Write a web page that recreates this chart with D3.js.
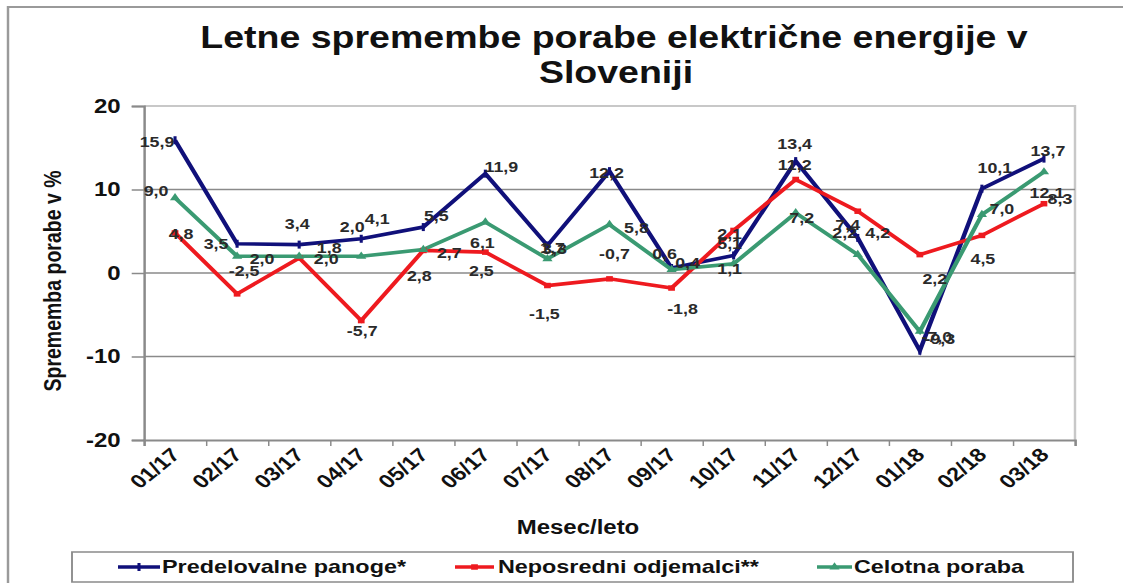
<!DOCTYPE html>
<html>
<head>
<meta charset="utf-8">
<script src="https://cdn.jsdelivr.net/npm/d3@7/dist/d3.min.js"></script>
<style>
  body { margin: 0; background: #fff; }
  text { font-family: "Liberation Sans", Arial, sans-serif; font-weight: bold; }
</style>
</head>
<body>
<svg id="chart" width="1123" height="583"></svg>
<script>
var months = ["01/17", "02/17", "03/17", "04/17", "05/17", "06/17", "07/17", "08/17",
              "09/17", "10/17", "11/17", "12/17", "01/18", "02/18", "03/18"];
var predelovalne = [15.9, 3.5, 3.4, 4.1, 5.5, 11.9, 3.3, 12.2, 0.6, 2.1, 13.4, 4.2, -9.3, 10.1, 13.7];
var neposredni = [4.8, -2.5, 1.8, -5.7, 2.7, 2.5, -1.5, -0.7, -1.8, 5.1, 11.2, 7.4, 2.2, 4.5, 8.3];
var celotna = [9.0, 2.0, 2.0, 2.0, 2.8, 6.1, 1.7, 5.8, 0.4, 1.1, 7.2, 2.2, -7.0, 7.0, 12.1];
var yTicks = [-20, -10, 0, 10, 20];
var seriesNames = ["Predelovalne panoge*", "Neposredni odjemalci**", "Celotna poraba"];

// label nudges (px), one per point, to sit like in the original
var blueOff = [[-18,1],[-21,0],[-2,-21],[16,-20],[13,-11],[16,-7],[7,3],[-3,2],[-7,-14],[-4,-22],[-1,-17],[20,-5],[20,-12],[13,-21],[4,-8]];
var redOff = [[6,1],[7,-23],[30,-10],[1,10],[26,2],[-4,19],[-3,28],[5,-25],[11,21],[-4,13],[-1,-15],[-10,13],[15,24],[1,23],[16,-5]];
var greenOff = [[-19,-7],[25,2],[27,2],[-9,-30],[-4,26],[-3,21],[5,-11],[27,3],[16,-7],[-4,5],[6,5],[-13,-22],[17,5],[20,-6],[3,21]];

(function () {
  // the source picture is stretched sideways, so draw in a squeezed space and scale x back
  var sx = 1.23;
  var left = 144, right = 1075, top = 106, bottom = 440;
  var fmt = function(v) { return d3.format(".1f")(v).replace("−", "-").replace(".", ","); };

  var svg = d3.select("#chart");
  var g = svg.append("g").attr("transform", "scale(" + sx + ",1)");

  // outer frame
  g.append("rect")
    .attr("x", 8 / sx).attr("y", 7)
    .attr("width", 1200 / sx).attr("height", 700)
    .attr("fill", "none").attr("stroke", "#9a9a9a").attr("stroke-width", 2);

  var x = d3.scaleBand().domain(months).range([left / sx, right / sx]);
  var xb = d3.scaleLinear().domain([0, months.length]).range([left / sx, right / sx]);
  var y = d3.scaleLinear().domain([-20, 20]).range([bottom, top]);
  var cx = function(i) { return x(months[i]) + x.bandwidth() / 2; };

  // plot area border (top and right)
  g.append("path")
    .attr("d", "M" + left / sx + "," + top + "H" + right / sx + "V" + bottom)
    .attr("fill", "none").attr("stroke", "#c8c8c8").attr("stroke-width", 2);

  // gridlines
  g.selectAll(".grid")
    .data(yTicks.filter(function(d) { return d > -20 && d < 20; }))
    .enter().append("line")
      .attr("x1", left / sx).attr("x2", right / sx)
      .attr("y1", function(d) { return y(d); })
      .attr("y2", function(d) { return y(d); })
      .attr("stroke", "#8a8a8a").attr("stroke-width", 1.5);

  // y axis
  var yaxis = d3.axisLeft(y).tickValues(yTicks).tickSize(10).tickPadding(9)
    .tickFormat(function(d) { return String(d); });
  var ya = g.append("g")
    .attr("transform", "translate(" + left / sx + ",0)")
    .call(yaxis);
  ya.select(".domain").attr("stroke", "#8a8a8a").attr("stroke-width", 2);
  ya.selectAll(".tick line").attr("stroke", "#8a8a8a").attr("stroke-width", 1.5);
  ya.selectAll(".tick text")
    .attr("font-size", 19.5).attr("fill", "#111")
    .style("font-family", "'Liberation Sans', Arial, sans-serif").style("font-weight", "bold");

  // x axis with ticks between the months
  var xaxis = d3.axisBottom(xb).ticks(months.length).tickSize(6).tickFormat("");
  var xa = g.append("g")
    .attr("transform", "translate(0," + bottom + ")")
    .call(xaxis);
  xa.select(".domain").attr("stroke", "#8a8a8a").attr("stroke-width", 2);
  xa.selectAll(".tick line").attr("stroke", "#8a8a8a").attr("stroke-width", 1.2);

  g.selectAll(".xlab")
    .data(months)
    .enter().append("text")
      .attr("transform", function(d, i) { return "translate(" + (cx(i) + 5) + "," + (bottom + 16) + ") rotate(-45)"; })
      .attr("text-anchor", "end")
      .attr("font-size", 19)
      .attr("fill", "#111")
      .text(function(d) { return d; });

  // titles
  g.append("text")
    .attr("x", 614 / sx).attr("y", 48)
    .attr("text-anchor", "middle").attr("font-size", 30.5).attr("fill", "#111")
    .text("Letne spremembe porabe električne energije v");
  g.append("text")
    .attr("x", 616 / sx).attr("y", 83)
    .attr("text-anchor", "middle").attr("font-size", 30.5).attr("fill", "#111")
    .text("Sloveniji");
  g.append("text")
    .attr("x", 578 / sx).attr("y", 534)
    .attr("text-anchor", "middle").attr("font-size", 19.5).attr("fill", "#111")
    .text("Mesec/leto");
  g.append("text")
    .attr("transform", "translate(" + 61 / sx + "," + 281 + ") rotate(-90)")
    .attr("text-anchor", "middle").attr("font-size", 19.5).attr("fill", "#111")
    .text("Sprememba porabe v %");

  var series = [
    { name: seriesNames[0], values: predelovalne, color: "#10107a", off: blueOff, sym: "tick" },
    { name: seriesNames[1], values: neposredni, color: "#ee1a1f", off: redOff, sym: d3.symbolSquare },
    { name: seriesNames[2], values: celotna, color: "#3a9a72", off: greenOff, sym: d3.symbolTriangle }
  ];

  var line = d3.line()
    .x(function(d, i) { return cx(i); })
    .y(function(d) { return y(d); });

  series.forEach(function(s) {
    g.append("path")
      .datum(s.values)
      .attr("d", line)
      .attr("fill", "none")
      .attr("stroke", s.color)
      .attr("stroke-width", 3.6)
      .attr("stroke-linejoin", "miter");
  });

  function marker(sel, s) {
    if (s.sym === "tick") {
      sel.append("path").attr("d", "M0,-4V4").attr("stroke", s.color).attr("stroke-width", 2.5);
    } else {
      sel.append("path").attr("d", d3.symbol().type(s.sym).size(30)).attr("fill", s.color);
    }
  }

  series.forEach(function(s) {
    s.values.forEach(function(v, i) {
      var m = g.append("g").attr("transform", "translate(" + cx(i) + "," + y(v) + ")");
      marker(m, s);
    });
  });

  // data labels on top
  series.forEach(function(s) {
    g.selectAll(null)
      .data(s.values)
      .enter().append("text")
        .attr("x", function(d, i) { return cx(i) + s.off[i][0] / sx; })
        .attr("y", function(d, i) { return y(d) + s.off[i][1]; })
        .attr("text-anchor", "middle")
        .attr("dominant-baseline", "central")
        .attr("font-size", 14.5)
        .attr("fill", "#2a2a2a")
        .text(function(d) { return fmt(d); });
  });

  // legend
  g.append("rect")
    .attr("x", 72 / sx).attr("y", 552)
    .attr("width", (1073 - 72) / sx).attr("height", 30)
    .attr("fill", "#fff").attr("stroke", "#8a8a8a").attr("stroke-width", 1.5);

  var legendPos = [[118, 160, 162], [455, 494, 498], [817, 852, 854]];
  series.forEach(function(s, k) {
    var p = legendPos[k];
    g.append("line")
      .attr("x1", p[0] / sx).attr("x2", p[1] / sx)
      .attr("y1", 567).attr("y2", 567)
      .attr("stroke", s.color).attr("stroke-width", 3.6);
    var m = g.append("g").attr("transform", "translate(" + (p[0] + p[1]) / 2 / sx + ",567)");
    marker(m, s);
    g.append("text")
      .attr("x", p[2] / sx).attr("y", 567)
      .attr("dominant-baseline", "central")
      .attr("font-size", 19).attr("fill", "#111")
      .text(s.name);
  });
})();
</script>
</body>
</html>
